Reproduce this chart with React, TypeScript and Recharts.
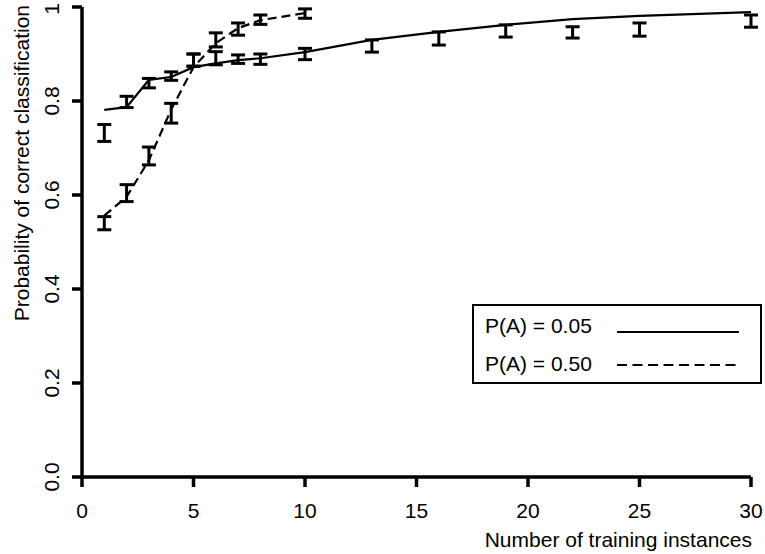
import { ComposedChart, Line, Scatter, ErrorBar, XAxis, YAxis, Label } from 'recharts'

// fitted curves
const FIT_05_X = [1, 2, 3, 4, 5, 6, 7, 8, 10, 13, 16, 19, 22, 25, 30]
const FIT_05_Y = [0.781, 0.787, 0.845, 0.851, 0.872, 0.88, 0.887, 0.891, 0.904, 0.93, 0.947, 0.962, 0.974, 0.981, 0.989]
const FIT_50_X = [1, 2, 3, 4, 5, 6, 7, 8, 10]
const FIT_50_Y = [0.556, 0.596, 0.674, 0.782, 0.872, 0.923, 0.955, 0.972, 0.987]

// observed means with error half-widths
const OBS_05_X = [1, 2, 3, 4, 5, 6, 7, 8, 10, 13, 16, 19, 22, 25, 30]
const OBS_05_Y = [0.732, 0.798, 0.838, 0.853, 0.887, 0.891, 0.889, 0.889, 0.9, 0.917, 0.933, 0.949, 0.946, 0.952, 0.97]
const OBS_05_ERR = [0.018, 0.012, 0.01, 0.009, 0.013, 0.014, 0.009, 0.011, 0.012, 0.013, 0.014, 0.013, 0.012, 0.014, 0.013]
const OBS_50_X = [1, 2, 3, 4, 5, 6, 7, 8, 10]
const OBS_50_Y = [0.54, 0.604, 0.683, 0.774, 0.887, 0.93, 0.953, 0.973, 0.986]
const OBS_50_ERR = [0.014, 0.018, 0.019, 0.021, 0.013, 0.015, 0.013, 0.01, 0.01]

const X_TICKS = [0, 5, 10, 15, 20, 25, 30]
const Y_TICKS = [0, 0.2, 0.4, 0.6, 0.8, 1]
const Y_TICK_LABELS = ['0.0', '0.2', '0.4', '0.6', '0.8', '1']

const SERIES_LABELS = ['P(A) = 0.05', 'P(A) = 0.50']

const FONT = '"Liberation Sans", Arial, Helvetica, sans-serif'
const AXIS_STYLE = { stroke: '#000', strokeWidth: 3.5 }

const fit05 = FIT_05_X.map((x, i) => ({ x, y: FIT_05_Y[i] }))
const fit50 = FIT_50_X.map((x, i) => ({ x, y: FIT_50_Y[i] }))
const obs05 = OBS_05_X.map((x, i) => ({ x, y: OBS_05_Y[i], err: OBS_05_ERR[i] }))
const obs50 = OBS_50_X.map((x, i) => ({ x, y: OBS_50_Y[i], err: OBS_50_ERR[i] }))

function XTick(p: any) {
  return (
    <text x={p.x} y={p.y + 31} textAnchor="middle" fontSize={21} fontFamily={FONT} fill="#000">
      {p.payload.value}
    </text>
  )
}

function YTick(p: any) {
  const i = Y_TICKS.indexOf(p.payload.value)
  const cx = p.x - 21
  return (
    <text
      x={cx}
      y={p.y}
      transform={`rotate(-90, ${cx}, ${p.y})`}
      textAnchor="middle"
      dominantBaseline="central"
      fontSize={21}
      fontFamily={FONT}
      fill="#000"
    >
      {Y_TICK_LABELS[i]}
    </text>
  )
}

const noDot = () => <g />

export default function App() {
  return (
    <div style={{ position: 'absolute', left: 0, top: 0, width: 765, height: 554, background: '#fff' }}>
      <ComposedChart width={765} height={554} margin={{ top: 7, right: 14, bottom: 0, left: 0 }}>
        <XAxis
          type="number"
          dataKey="x"
          domain={[0, 30]}
          ticks={X_TICKS}
          height={77}
          tickSize={10}
          tickMargin={0}
          axisLine={AXIS_STYLE}
          tickLine={AXIS_STYLE}
          tick={XTick}
          allowDuplicatedCategory={false}
        >
          <Label
            content={(props: any) => {
              const vb = props.viewBox
              return (
                <text x={vb.x + vb.width + 1} y={vb.y + 70} textAnchor="end" fontSize={21} fontFamily={FONT} fill="#000">
                  Number of training instances
                </text>
              )
            }}
          />
        </XAxis>
        <YAxis
          type="number"
          domain={[0, 1]}
          ticks={Y_TICKS}
          width={82}
          tickSize={10}
          tickMargin={0}
          axisLine={AXIS_STYLE}
          tickLine={AXIS_STYLE}
          tick={YTick}
        >
          <Label
            content={(props: any) => {
              const vb = props.viewBox
              const y = vb.y - 2
              return (
                <text
                  x={21}
                  y={y}
                  transform={`rotate(-90, 21, ${y})`}
                  textAnchor="end"
                  dominantBaseline="central"
                  fontSize={21}
                  fontFamily={FONT}
                  fill="#000"
                >
                  Probability of correct classification
                </text>
              )
            }}
          />
        </YAxis>
        <Line data={fit05} dataKey="y" type="linear" stroke="#000" strokeWidth={2.2} dot={false} isAnimationActive={false} />
        <Line
          data={fit50}
          dataKey="y"
          type="linear"
          stroke="#000"
          strokeWidth={2.2}
          strokeDasharray="9 5"
          dot={false}
          isAnimationActive={false}
        />
        <Scatter data={obs05} dataKey="y" shape={noDot} isAnimationActive={false}>
          <ErrorBar dataKey="err" direction="y" width={7} stroke="#000" strokeWidth={3} />
        </Scatter>
        <Scatter data={obs50} dataKey="y" shape={noDot} isAnimationActive={false}>
          <ErrorBar dataKey="err" direction="y" width={7} stroke="#000" strokeWidth={3} />
        </Scatter>
      </ComposedChart>
      <div
        style={{
          position: 'absolute',
          left: 472,
          top: 304,
          width: 290,
          height: 80,
          border: '2px solid #000',
          boxSizing: 'border-box',
          fontFamily: FONT,
          fontSize: 21,
          color: '#000',
        }}
      >
        {SERIES_LABELS.map((s, i) => (
          <div key={s} style={{ position: 'absolute', left: 11, top: i === 0 ? 8 : 46, height: 24, lineHeight: '24px', whiteSpace: 'nowrap' }}>
            {s}
          </div>
        ))}
        <svg width={130} height={80} style={{ position: 'absolute', left: 140, top: -2 }}>
          <line x1={3} x2={125} y1={28} y2={28} stroke="#000" strokeWidth={2.2} />
          <line x1={3} x2={125} y1={61} y2={61} stroke="#000" strokeWidth={2.2} strokeDasharray="10 5.5" />
        </svg>
      </div>
    </div>
  )
}
